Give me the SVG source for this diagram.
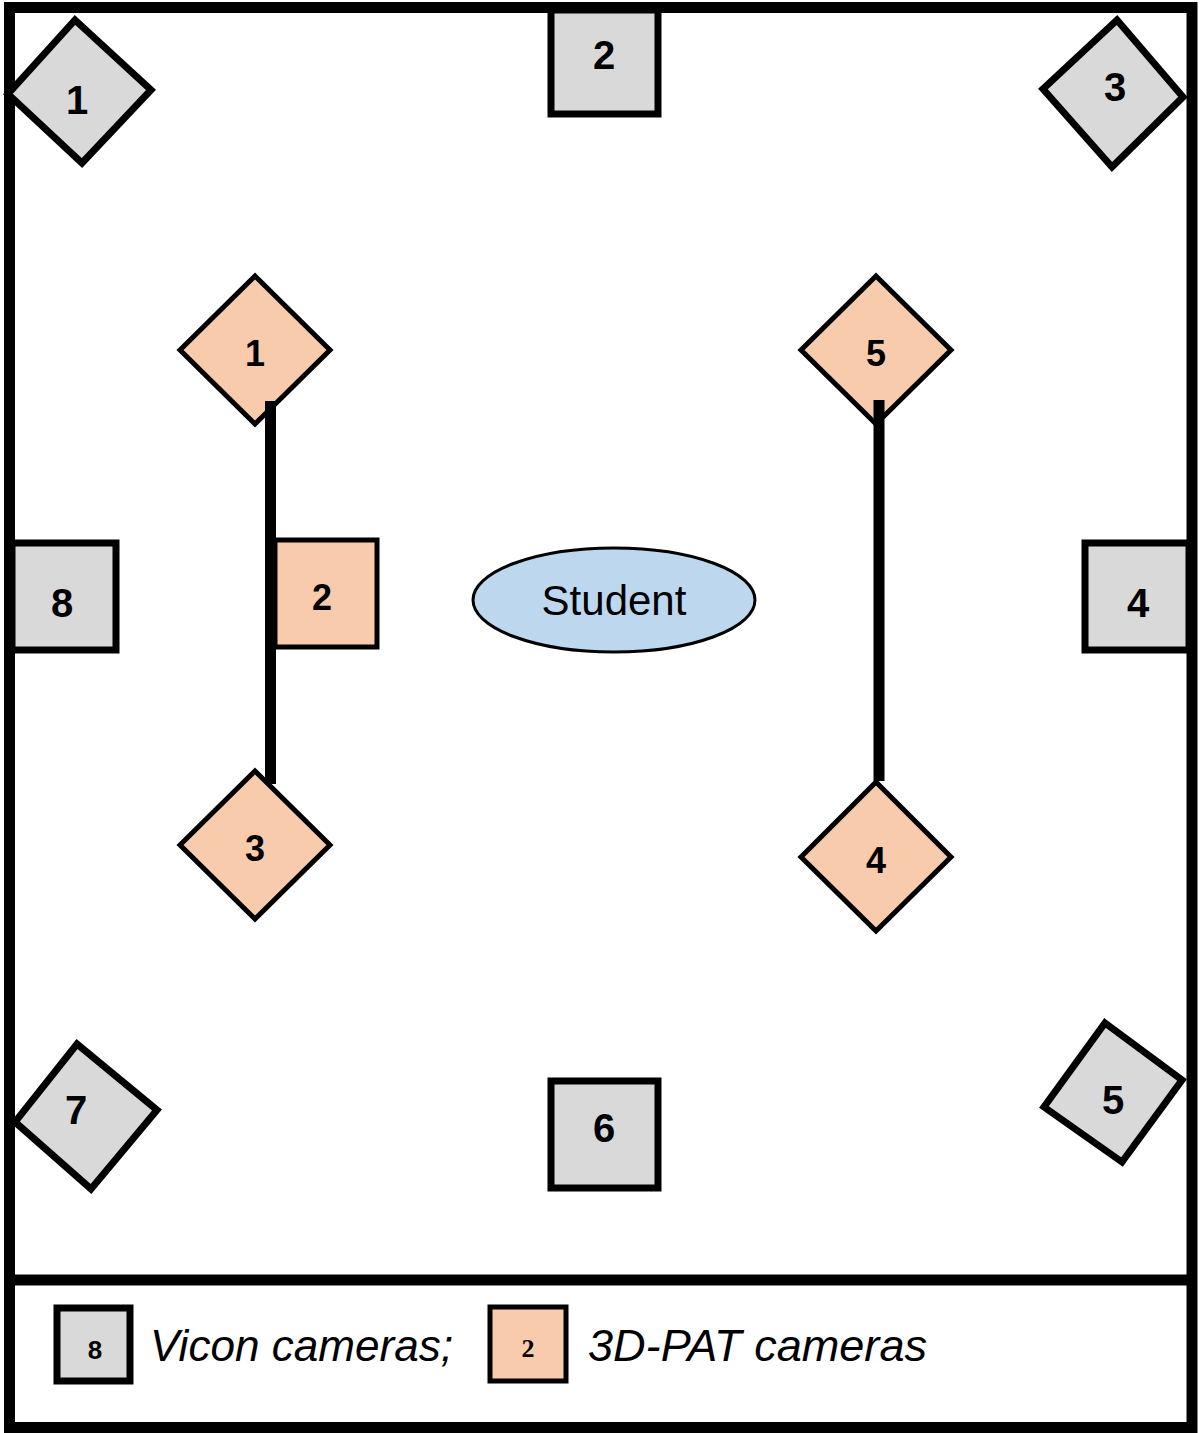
<svg xmlns="http://www.w3.org/2000/svg" width="1200" height="1433" viewBox="0 0 1200 1433">
<style>
.v{fill:#D9D9D9;stroke:#000;stroke-width:7;stroke-linejoin:miter}
.p{fill:#F8CBAD;stroke:#000;stroke-width:5}
.n{font-family:"Liberation Sans",Arial,sans-serif;font-weight:bold;font-size:40px;text-anchor:middle;fill:#000}
.ns{font-family:"Liberation Sans",Arial,sans-serif;font-weight:bold;font-size:36px;text-anchor:middle;fill:#000}
.leg{font-family:"Liberation Sans",Arial,sans-serif;font-style:italic;font-size:44px;fill:#000}
.ln{stroke:#000;stroke-width:11;fill:none}
</style>
<rect x="0" y="0" width="1200" height="1433" fill="#fff"/>
<g id="frame">
<rect x="9.5" y="7.5" width="1182.5" height="1420" fill="none" stroke="#000" stroke-width="11"/>
<line x1="9.5" y1="1280" x2="1192" y2="1280" stroke="#000" stroke-width="11"/>
</g>
<g id="vicon1"><polygon class="v" points="75,20 151,90 82,163 8,94"/><text class="n" x="77" y="114">1</text></g>
<g id="vicon2"><rect class="v" x="551" y="10" width="107" height="104" stroke-width="5"/><text class="n" x="604" y="69">2</text></g>
<g id="vicon3"><polygon class="v" points="1117,20 1183,97 1112,167 1043,89"/><text class="n" x="1115" y="101">3</text></g>
<g id="vicon4"><rect class="v" x="1085" y="543" width="104" height="107" stroke-width="5"/><text class="n" x="1138" y="617">4</text></g>
<g id="vicon5"><polygon class="v" points="1105,1023 1182,1080 1122,1162 1044,1107"/><text class="n" x="1113" y="1114">5</text></g>
<g id="vicon6"><rect class="v" x="551" y="1081" width="107" height="107" stroke-width="5"/><text class="n" x="604" y="1142">6</text></g>
<g id="vicon7"><polygon class="v" points="77,1044 157,1110 91,1189 15,1122"/><text class="n" x="76" y="1124">7</text></g>
<g id="vicon8"><rect class="v" x="12" y="543" width="104" height="107" stroke-width="5"/><text class="n" x="62" y="617">8</text></g>
<g id="pat1"><polygon class="p" points="255,276 330,350 255,424 180,350"/><text class="ns" x="255" y="366">1</text></g>
<g id="pat2"><rect class="p" x="275" y="540" width="102" height="107"/><text class="ns" x="322" y="610">2</text></g>
<g id="pat3"><polygon class="p" points="255,771 330,845 255,919 180,845"/><text class="ns" x="255" y="861">3</text></g>
<g id="pat4"><polygon class="p" points="876,782 951,857 876,931 801,857"/><text class="ns" x="876" y="873">4</text></g>
<g id="pat5"><polygon class="p" points="876,276 951,350 876,424 801,350"/><text class="ns" x="876" y="366">5</text></g>
<g id="connectors">
<line class="ln" x1="270.5" y1="401" x2="270.5" y2="784"/>
<line class="ln" x1="879" y1="400" x2="879" y2="781"/>
</g>
<g id="student"><ellipse cx="614" cy="600" rx="141" ry="52" fill="#BDD7EE" stroke="#000" stroke-width="3"/><text x="614" y="615" font-family="Liberation Sans,Arial,sans-serif" font-size="42" text-anchor="middle">Student</text></g>
<g id="legend">
<rect class="v" x="57" y="1308" width="73" height="73" stroke-width="6"/>
<text x="95" y="1359" font-family="Liberation Sans,Arial,sans-serif" font-weight="bold" font-size="26" text-anchor="middle">8</text>
<text class="leg" x="150" y="1361" textLength="303" lengthAdjust="spacingAndGlyphs">Vicon cameras;</text>
<rect class="p" x="490" y="1307" width="76" height="74" stroke-width="3"/>
<text x="528" y="1357" font-family="Liberation Serif,serif" font-weight="bold" font-size="26" text-anchor="middle">2</text>
<text class="leg" x="588" y="1361" textLength="339" lengthAdjust="spacingAndGlyphs">3D-PAT cameras</text>
</g>
</svg>
